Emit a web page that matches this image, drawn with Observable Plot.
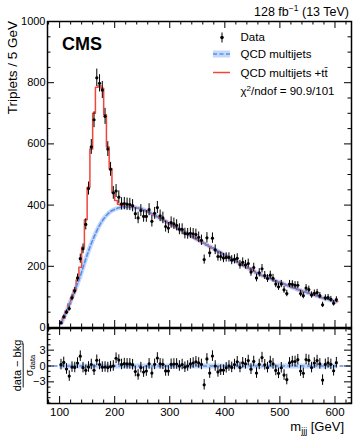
<!DOCTYPE html>
<html><head><meta charset="utf-8">
<script src="https://cdn.jsdelivr.net/npm/d3@7"></script>
<script src="https://cdn.jsdelivr.net/npm/@observablehq/plot@0.6"></script>
<style>
body{margin:0;background:#fff;}
#wrap{position:relative;width:354px;height:440px;font-family:"Liberation Sans",Arial,sans-serif;background:#fff;}
#wrap svg{position:absolute;left:0;overflow:visible;}
</style></head><body><div id="wrap"></div>
<script>
// bin centres, 5 GeV bins
const binCenters = d3.range(102.5, 603, 5);
// QCD multijet fit (blue dashed)
const qcd = [14,31,52,75,98,120,143,168,196,224,
 250,274,296,316,334,349,361,371,379,384,
 388,391,393,394,394,394,393,392,390,388,
 385,381,377,372,367,362,357,352,347,342,
 337,332,327,321,316,311,306,301,296,290,
 285,280,275,270,265,260,254,249,244,239,
 234,229,224,219,214,209,204,199,194,189,
 184,179,175,170,167,164,160,156,152,149,
 146,142,138,135,131,128,124,121,118,115,
 112,109,106,103,100,97,94,92,89,87,
 85];
// ttbar component added on top of QCD (red = qcd + ttbar)
const ttbar = [0,0,2,2,1,3,12,29,66,128,
 208,309,404,469,456,433,334,219,141,56,
 27,12,5,2,1,0,0,0,0,0,
 0,0,0,0,0,0,0,0,0,0,
 0,0,0,0,0,0,0,0,0,0,
 0,0,0,0,0,0,0,0,0,0,
 0,0,0,0,0,0,0,0,0,0,
 0,0,0,0,0,0,0,0,0,0,
 0,0,0,0,0,0,0,0,0,0,
 0,0,0,0,0,0,0,0,0,0,
 0];
// observed triplets per bin
const observed = [15,35,50,62,97,120,162,225,257,337,
 454,590,679,816,798,776,690,583,517,440,
 446,426,404,405,403,402,398,372,358,382,
 363,363,385,347,373,392,365,358,330,325,
 343,339,334,321,321,307,306,308,306,304,
 295,285,222,293,244,292,254,232,232,227,
 229,229,220,223,226,205,213,205,209,181,
 196,162,179,192,170,160,171,161,142,133,
 142,123,111,142,141,138,138,111,104,129,
 124,106,112,114,104,74,97,98,92,79,
 91];

const xMajor = [100,200,300,400,500,600];
const xMinor = [80,120,140,160,180,220,240,260,280,320,340,360,380,420,440,460,480,520,540,560,580,620];
const yMajor = [0,200,400,600,800,1000];
const yMinor = [50,100,150,250,300,350,450,500,550,650,700,750,850,900,950];
const pullMajor = [-3,0,3];
const pullMinor = [-7,-6,-5,-4,-2,-1,1,2,4,5,6,7];

const BLUE = "#5a8ff0", BAND = "#c4d8f8", RED = "#f0453b";
const W = 354, ML = 47, MR = 3;
const FW = W - ML - MR;

const rows = binCenters.map((m, i) => {
  const total = qcd[i] + ttbar[i];
  const err = Math.sqrt(observed[i]);
  return {m, qcd: qcd[i], total, n: observed[i], lo: observed[i] - err, hi: observed[i] + err,
          pull: (observed[i] - total) / err};
});
const steps = rows.map(r => ({x: r.m - 2.5, y: r.total}))
  .concat([{x: rows[rows.length - 1].m + 2.5, y: rows[rows.length - 1].total}]);

function xTicks(FH) {
  return [
    Plot.tickX(xMajor, {x: d => d, insetTop: FH - 7, stroke: "black", strokeWidth: 1}),
    Plot.tickX(xMinor, {x: d => d, insetTop: FH - 3.5, stroke: "black", strokeWidth: 1}),
    Plot.tickX(xMajor, {x: d => d, insetBottom: FH - 7, stroke: "black", strokeWidth: 1}),
    Plot.tickX(xMinor, {x: d => d, insetBottom: FH - 3.5, stroke: "black", strokeWidth: 1})
  ];
}
function yTicks(maj, min) {
  return [
    Plot.tickY(maj, {y: d => d, insetRight: FW - 7, stroke: "black", strokeWidth: 1}),
    Plot.tickY(min, {y: d => d, insetRight: FW - 3.5, stroke: "black", strokeWidth: 1}),
    Plot.tickY(maj, {y: d => d, insetLeft: FW - 7, stroke: "black", strokeWidth: 1}),
    Plot.tickY(min, {y: d => d, insetLeft: FW - 3.5, stroke: "black", strokeWidth: 1})
  ];
}

const xDomain = [78, 630];
const mainH = 328, mainTop = 21, mainBottom = 1;
const main = Plot.plot({
  width: W, height: mainH, marginLeft: ML, marginRight: MR, marginTop: mainTop, marginBottom: mainBottom,
  style: {fontFamily: "Liberation Sans, Arial, sans-serif", fontSize: "11px", background: "transparent", color: "black"},
  x: {domain: xDomain, axis: null},
  y: {domain: [0, 1000], axis: null},
  marks: [
    Plot.lineY(rows, {x: "m", y: "qcd", stroke: BAND, strokeWidth: 4.5, curve: "monotone-x"}),
    Plot.line(steps, {x: "x", y: "y", curve: "step-after", stroke: RED, strokeWidth: 1.5}),
    Plot.lineY(rows, {x: "m", y: "qcd", stroke: BLUE, strokeWidth: 1.6, strokeDasharray: "4,2.5", curve: "monotone-x"}),
    Plot.ruleX(rows, {x: "m", y1: "lo", y2: "hi", stroke: "black", strokeWidth: 1}),
    Plot.dot(rows, {x: "m", y: "n", r: 1.6, fill: "black", stroke: "none"}),
    ...xTicks(mainH - mainTop - mainBottom),
    ...yTicks(yMajor, yMinor),
    Plot.axisY(yMajor, {anchor: "left", tickSize: 0, tickPadding: 2, label: null, fontSize: 11, tickFormat: d => String(d)}),
    Plot.frame({stroke: "black", strokeWidth: 1.5})
  ]
});
main.style.top = "0px";

const rTop = 327, rH = 96, rMT = 1, rMB = 20;
const ratio = Plot.plot({
  width: W, height: rH, marginLeft: ML, marginRight: MR, marginTop: rMT, marginBottom: rMB,
  style: {fontFamily: "Liberation Sans, Arial, sans-serif", fontSize: "11px", background: "transparent", color: "black"},
  x: {domain: xDomain, axis: null},
  y: {domain: [-7.1, 7.1], axis: null},
  marks: [
    Plot.ruleY([0], {x1: binCenters[0] - 2.5, x2: binCenters[binCenters.length - 1] + 2.5, stroke: BAND, strokeWidth: 5}),
    Plot.ruleY([0], {stroke: BLUE, strokeWidth: 1.3, strokeDasharray: "4,2.5"}),
    Plot.ruleX(rows, {x: "m", y1: d => d.pull - 1, y2: d => d.pull + 1, stroke: "black", strokeWidth: 1}),
    Plot.dot(rows, {x: "m", y: "pull", r: 1.6, fill: "black", stroke: "none"}),
    ...xTicks(rH - rMT - rMB),
    ...yTicks(pullMajor, pullMinor),
    Plot.axisY(pullMajor, {anchor: "left", tickSize: 0, tickPadding: 2, label: null, fontSize: 11,
      tickFormat: d => d < 0 ? "\u2212" + Math.abs(d) : String(d)}),
    Plot.axisX(xMajor, {anchor: "bottom", tickSize: 0, tickPadding: 4, label: null, fontSize: 11.5, tickFormat: d => String(d)}),
    Plot.frame({stroke: "black", strokeWidth: 1.5})
  ]
});
ratio.style.top = rTop + "px";

const wrap = document.getElementById("wrap");
wrap.appendChild(main);
wrap.appendChild(ratio);

const ns = "http://www.w3.org/2000/svg";
const ov = document.createElementNS(ns, "svg");
ov.setAttribute("width", W); ov.setAttribute("height", 440);
ov.style.top = "0px"; ov.style.pointerEvents = "none";
ov.setAttribute("font-family", "Liberation Sans, Arial, sans-serif");
ov.innerHTML = `
<text x="349" y="16" text-anchor="end" font-size="12.5">128 fb<tspan dy="-5" font-size="8.5">\u22121</tspan><tspan dy="5"> (13 TeV)</tspan></text>
<text x="62" y="50" font-size="18" font-weight="bold">CMS</text>
<line x1="222" x2="222" y1="32.5" y2="42.5" stroke="black" stroke-width="1"/>
<circle cx="222" cy="37.5" r="1.8" fill="black"/>
<text x="240.5" y="41" font-size="11.5">Data</text>
<rect x="213" y="50.5" width="17" height="7" fill="${BAND}"/>
<line x1="213" x2="230" y1="54" y2="54" stroke="${BLUE}" stroke-width="1.6" stroke-dasharray="4,2.5"/>
<text x="240.5" y="58" font-size="11.5">QCD multijets</text>
<line x1="213" x2="230" y1="72.5" y2="72.5" stroke="${RED}" stroke-width="1.5"/>
<text x="240.5" y="76.5" font-size="11.5">QCD multijets +t<tspan>t\u0304</tspan></text>
<text x="240.5" y="95" font-size="11.5">\u03c7<tspan dy="-4.5" font-size="8">2</tspan><tspan dy="4.5">/ndof = 90.9/101</tspan></text>
<text transform="translate(17,21) rotate(-90)" text-anchor="end" font-size="13.5">Triplets / 5 GeV</text>
<g transform="translate(0,365.5) rotate(-90)">
  <text x="0" y="20.5" text-anchor="middle" font-size="11">data \u2212 bkg</text>
  <line x1="-22" x2="22" y1="23.2" y2="23.2" stroke="black" stroke-width="0.9"/>
  <text x="0" y="33" text-anchor="middle" font-size="11">\u03c3<tspan font-size="7.5" dy="2">data</tspan></text>
</g>
<text x="344" y="431" text-anchor="end" font-size="13">m<tspan font-size="9" dy="3">jjj</tspan><tspan dy="-3"> [GeV]</tspan></text>
`;
wrap.appendChild(ov);
</script></body></html>
